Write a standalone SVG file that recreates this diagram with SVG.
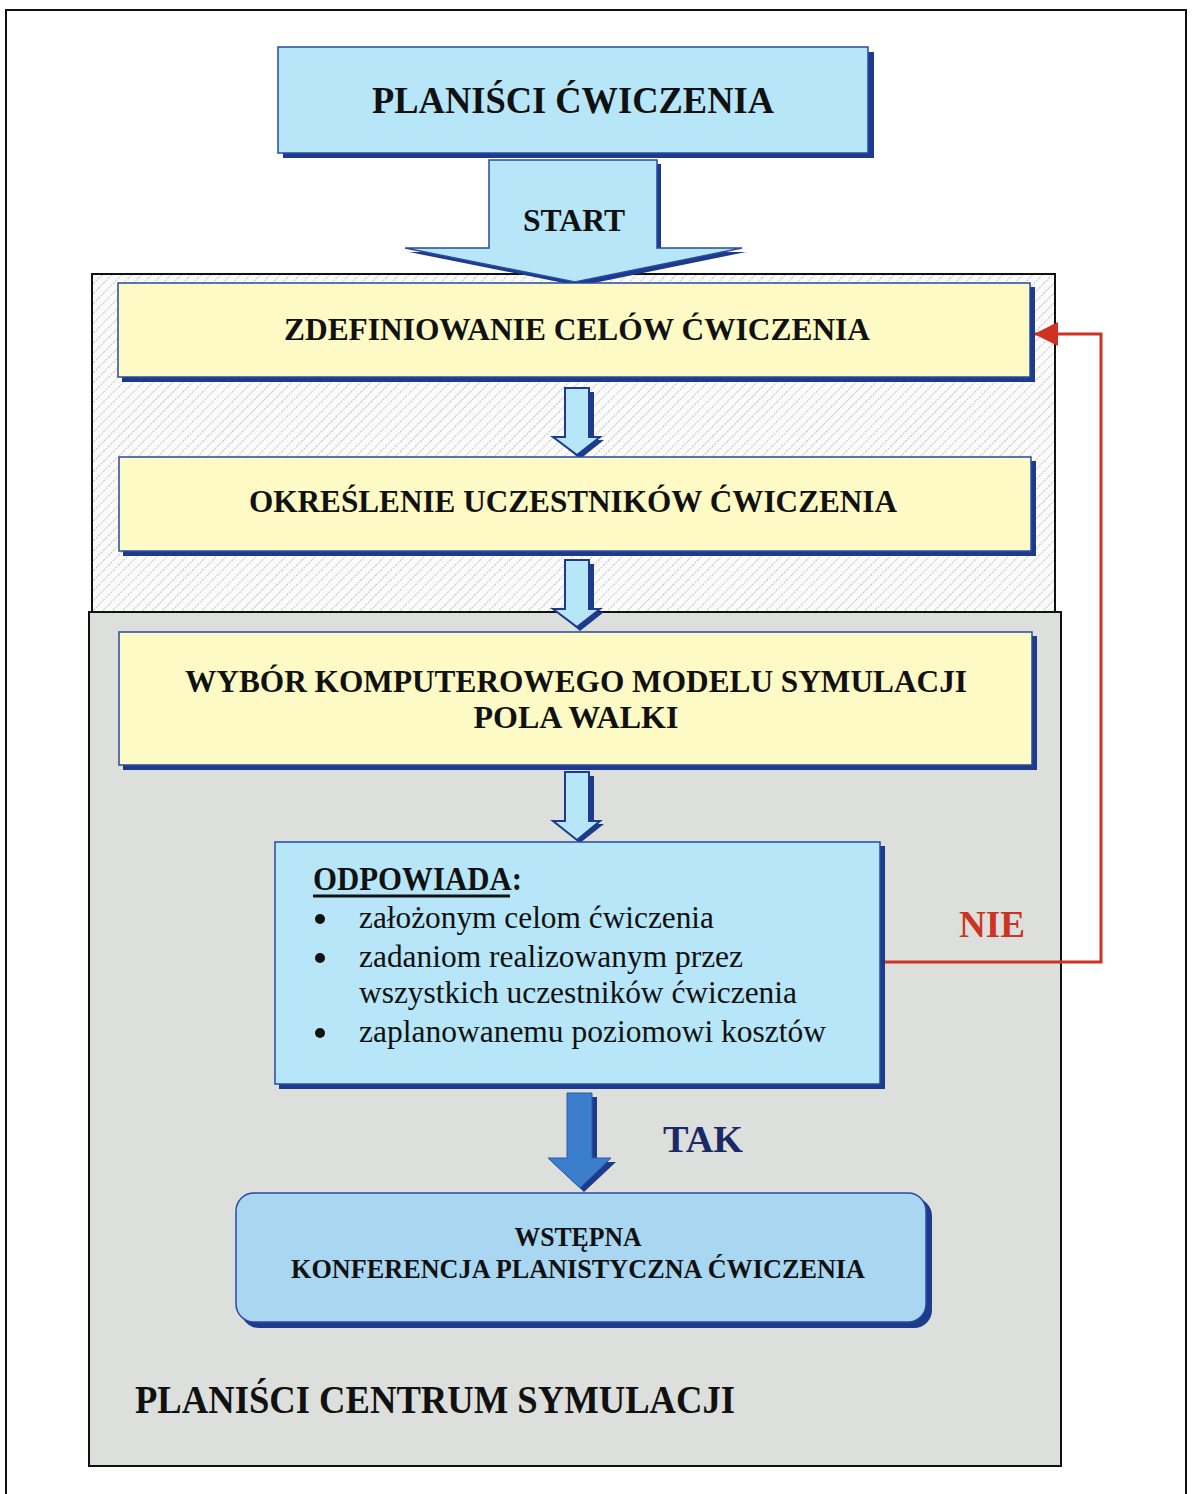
<svg xmlns="http://www.w3.org/2000/svg" width="1192" height="1494" viewBox="0 0 1192 1494">
  <style>
    .t { font-family: "Liberation Serif", "Times New Roman", serif; font-weight: bold; fill: #111; text-anchor: middle; }
    .ts { text-anchor: start; }
    .body { font-family: "Liberation Serif", "Times New Roman", serif; fill: #111; font-size: 31px; }
    .shadow { fill: #1d3a8c; }
    .yellow { fill: #fdfac6; stroke: #2a4aa0; stroke-width: 1.5; }
    .cyan { fill: #b6e6f7; stroke: #2a4aa0; stroke-width: 1.5; }
    .arr { fill: #b6e6f7; stroke: #1d3a8c; stroke-width: 2; stroke-linejoin: miter; }
    .arrsh { fill: #1d3a8c; }
  </style>
  <defs>
    <pattern id="hatch" width="7" height="7" patternUnits="userSpaceOnUse" patternTransform="rotate(45)">
      <rect width="7" height="7" fill="#fbfbfb"/>
      <line x1="0" y1="0" x2="0" y2="7" stroke="#a8a8a8" stroke-width="1.2" stroke-dasharray="2 1"/>
    </pattern>
    <marker id="redHead" markerWidth="26" markerHeight="24" refX="24" refY="12" orient="auto" markerUnits="userSpaceOnUse" viewBox="0 0 26 24">
      <path d="M0,0 L24,12 L0,24 Z" fill="#cc3322"/>
    </marker>
  </defs>

  <rect width="1192" height="1494" fill="#ffffff"/>
  <!-- page frame -->
  <path d="M6,1494 V10 H1186 V1494" fill="none" stroke="#111" stroke-width="2"/>

  <!-- containers -->
  <g id="exercise-area">
    <rect x="92" y="274" width="963" height="345" fill="url(#hatch)" stroke="#111" stroke-width="2"/>
  </g>
  <g id="simulation-centre">
    <rect x="89" y="612" width="972" height="854" fill="#dcdfdc" stroke="#111" stroke-width="2"/>
    <text class="t ts" x="135" y="1413" font-size="41" textLength="600" lengthAdjust="spacingAndGlyphs">PLANIŚCI CENTRUM SYMULACJI</text>
  </g>

  <!-- connectors -->
  <g id="connectors">
    <!-- START -->
    <path class="arrsh" d="M493,164 H661 V252 H746 L579,286 L409,252 H493 Z"/>
    <path d="M489,160 H657 V248 H742 L575,282 L405,248 H489 Z" fill="#b6e6f7" stroke="#2a4aa0" stroke-width="1.5"/>
    <text class="t" x="574" y="231" font-size="32" textLength="102" lengthAdjust="spacingAndGlyphs">START</text>

    <!-- step arrows -->
    <path class="arrsh" d="M569,392 H594 V440 H604 L580,459 L557,440 H569 Z"/>
    <path class="arr" d="M565,388 H589 V437 H600 L577,455 L553,437 H565 Z"/>

    <path class="arrsh" d="M569,564 H594 V612 H604 L580,631 L557,612 H569 Z"/>
    <path class="arr" d="M565,560 H589 V609 H600 L577,627 L553,609 H565 Z"/>

    <path class="arrsh" d="M569,776 H594 V824 H604 L580,843 L557,824 H569 Z"/>
    <path class="arr" d="M565,772 H589 V821 H600 L577,840 L553,821 H565 Z"/>

    <!-- TAK -->
    <path class="arrsh" d="M572,1097 H597 V1162 H616 L584,1192 L552,1162 H572 Z"/>
    <path d="M567,1093 H592 V1158 H611 L580,1188 L548,1158 H567 Z" fill="#3b7fcc" stroke="#2a5aaa" stroke-width="1"/>
    <text class="t" x="703" y="1152" font-size="37" textLength="80" lengthAdjust="spacingAndGlyphs" style="fill:#1b2a66">TAK</text>

    <!-- NIE -->
    <path d="M881,962 H1101 V334 H1034" fill="none" stroke="#cc3322" stroke-width="3" marker-end="url(#redHead)"/>
    <text class="t" x="992" y="937" font-size="38" textLength="66" lengthAdjust="spacingAndGlyphs" style="fill:#cc3322">NIE</text>
  </g>

  <!-- nodes -->
  <g id="planners">
    <rect class="shadow" x="283" y="52" width="591" height="106"/>
    <rect class="cyan" x="278" y="47" width="590" height="106"/>
    <text class="t" x="573" y="113" font-size="38" textLength="402" lengthAdjust="spacingAndGlyphs">PLANIŚCI ĆWICZENIA</text>
  </g>

  <g id="define-goals">
    <rect class="shadow" x="122" y="287" width="913" height="95"/>
    <rect class="yellow" x="118" y="283" width="912" height="94"/>
    <text class="t" x="577" y="340" font-size="32" textLength="586" lengthAdjust="spacingAndGlyphs">ZDEFINIOWANIE CELÓW ĆWICZENIA</text>
  </g>

  <g id="participants">
    <rect class="shadow" x="123" y="461" width="913" height="95"/>
    <rect class="yellow" x="119" y="457" width="912" height="94"/>
    <text class="t" x="573" y="512" font-size="32" textLength="648" lengthAdjust="spacingAndGlyphs">OKREŚLENIE UCZESTNIKÓW ĆWICZENIA</text>
  </g>

  <g id="model-choice">
    <rect class="shadow" x="123" y="636" width="914" height="134"/>
    <rect class="yellow" x="119" y="632" width="913" height="133"/>
    <text class="t" x="576" y="692" font-size="32" textLength="782" lengthAdjust="spacingAndGlyphs">WYBÓR KOMPUTEROWEGO MODELU SYMULACJI</text>
    <text class="t" x="576" y="728" font-size="32" textLength="205" lengthAdjust="spacingAndGlyphs">POLA WALKI</text>
  </g>

  <g id="check">
    <rect class="shadow" x="279" y="846" width="606" height="243"/>
    <rect class="cyan" x="275" y="842" width="605" height="242"/>
    <text class="t ts" x="313" y="890" font-size="34" textLength="209" lengthAdjust="spacingAndGlyphs">ODPOWIADA:</text>
    <line x1="313" y1="896" x2="510" y2="896" stroke="#111" stroke-width="3"/>
    <g class="body">
      <circle cx="320" cy="919" r="5" fill="#111"/>
      <text x="359" y="928" textLength="355" lengthAdjust="spacingAndGlyphs">założonym celom ćwiczenia</text>
      <circle cx="320" cy="958" r="5" fill="#111"/>
      <text x="359" y="967" textLength="384" lengthAdjust="spacingAndGlyphs">zadaniom realizowanym przez</text>
      <text x="359" y="1003" textLength="438" lengthAdjust="spacingAndGlyphs">wszystkich uczestników ćwiczenia</text>
      <circle cx="320" cy="1033" r="5" fill="#111"/>
      <text x="359" y="1042" textLength="467" lengthAdjust="spacingAndGlyphs">zaplanowanemu poziomowi kosztów</text>
    </g>
  </g>

  <g id="conference">
    <rect class="shadow" x="241" y="1198" width="691" height="130" rx="18"/>
    <rect x="236" y="1193" width="690" height="129" rx="18" fill="#a9d6f1" stroke="#2a4aa0" stroke-width="1.5"/>
    <text class="t" x="578" y="1246" font-size="27" textLength="127" lengthAdjust="spacingAndGlyphs">WSTĘPNA</text>
    <text class="t" x="578" y="1278" font-size="27" textLength="574" lengthAdjust="spacingAndGlyphs">KONFERENCJA PLANISTYCZNA ĆWICZENIA</text>
  </g>
</svg>
